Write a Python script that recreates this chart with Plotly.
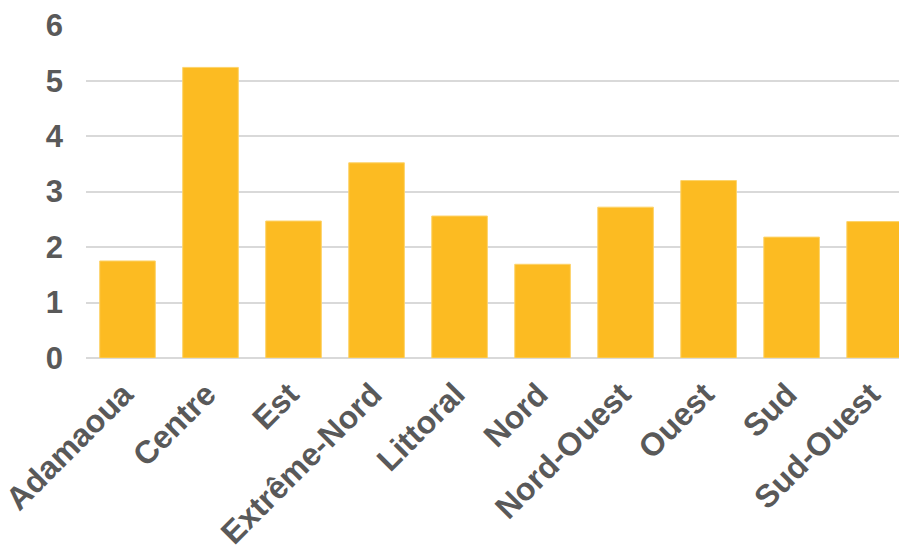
import plotly.graph_objects as go

regions = ["Adamaoua", "Centre", "Est", "Extrême-Nord", "Littoral", "Nord",
           "Nord-Ouest", "Ouest", "Sud", "Sud-Ouest"]
values = [1.75, 5.24, 2.47, 3.52, 2.56, 1.69, 2.72, 3.20, 2.18, 2.46]
y_ticks = [0, 1, 2, 3, 4, 5, 6]

FONT = "Liberation Sans, Arial, sans-serif"

fig = go.Figure(go.Bar(
    x=regions, y=values,
    marker=dict(color="#FCBB22", line=dict(color="#FDD36A", width=1)),
))

# page body has an 8px margin, so the figure is sized/margined to compensate
fig.update_layout(
    width=899, height=539,
    margin=dict(l=78, r=0, t=16.5, b=188.5),
    plot_bgcolor="white", paper_bgcolor="white",
    bargap=0.33,
    showlegend=False,
    font=dict(family=FONT, color="#595959"),
)
fig.update_xaxes(
    range=[-0.5, 9.39],
    automargin=False,
    tickangle=-45,
    tickfont=dict(size=32, color="#595959", family=FONT, weight="bold"),
    ticks="", ticklabelstandoff=10, ticklabelshift=-4,
    showgrid=False, showline=False,
)
fig.update_yaxes(
    range=[0, 6.005], tickvals=y_ticks,
    automargin=False,
    tickfont=dict(size=31, color="#595959", family=FONT, weight="bold"),
    ticks="", ticklabelstandoff=22,
    showgrid=True, gridcolor="#D9D9D9", gridwidth=1.5,
    zeroline=True, zerolinecolor="#D9D9D9", zerolinewidth=1.5,
    showline=False,
)

fig.write_html("out.html")
